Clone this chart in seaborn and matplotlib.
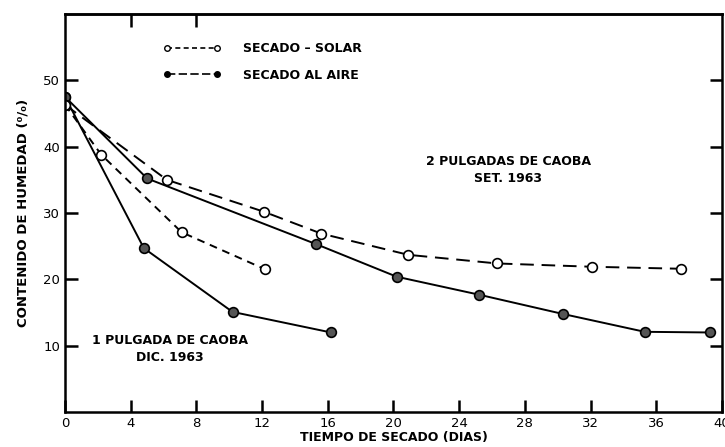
import matplotlib
matplotlib.use("Agg")
import matplotlib.pyplot as plt
import seaborn as sns
from matplotlib.lines import Line2D

# curvas de secado
dias_1p_aire = [0, 4.8, 10.2, 16.2]
hum_1p_aire = [47.5, 24.7, 15.1, 12.0]
dias_1p_solar = [0, 2.2, 7.1, 12.2]
hum_1p_solar = [46.3, 38.8, 27.1, 21.5]
dias_2p_aire = [0, 5.0, 15.3, 20.2, 25.2, 30.3, 35.3, 39.3]
hum_2p_aire = [47.5, 35.2, 25.3, 20.4, 17.7, 14.8, 12.1, 12.0]
dias_2p_solar = [0, 6.2, 12.1, 15.6, 20.9, 26.3, 32.1, 37.5]
hum_2p_solar = [46.3, 35.0, 30.2, 26.9, 23.7, 22.4, 21.9, 21.6]

x_ticks = [0, 4, 8, 12, 16, 20, 24, 28, 32, 36, 40]
y_ticks = [10, 20, 30, 40, 50]

sns.set_style("ticks", {'text.color': 'black', 'axes.labelcolor': 'black',
                        'xtick.color': 'black', 'ytick.color': 'black',
                        'axes.edgecolor': 'black'})
plt.rcParams['font.family'] = ['Liberation Sans Narrow', 'DejaVu Sans']

fig = plt.figure(figsize=(7.25, 4.47), dpi=100)
ax = fig.add_axes([0.0897, 0.078, 0.906, 0.891])

abierto = dict(marker='o', markersize=7, markerfacecolor='white',
               markeredgecolor='black', markeredgewidth=1.2)
lleno = dict(marker='o', markersize=7, markerfacecolor='#555555',
             markeredgecolor='black', markeredgewidth=1.2)

sns.lineplot(x=dias_1p_aire, y=hum_1p_aire, ax=ax, color='black', lw=1.4, **lleno)
sns.lineplot(x=dias_2p_aire, y=hum_2p_aire, ax=ax, color='black', lw=1.4, **lleno)
sns.lineplot(x=dias_1p_solar, y=hum_1p_solar, ax=ax, color='black', lw=1.4,
             dashes=(4, 3), **abierto)
sns.lineplot(x=dias_2p_solar, y=hum_2p_solar, ax=ax, color='black', lw=1.4,
             dashes=(7, 4), **abierto)

ax.set_xlim(0, 40)
ax.set_ylim(0, 60)
ax.set_xticks(x_ticks)
ax.set_yticks(y_ticks)
ax.tick_params(direction='in', length=9, width=1.8, labelsize=9.5, right=True)
ax.tick_params(axis='y', labelright=False)
for s in ax.spines.values():
    s.set_linewidth(1.8)

top = ax.secondary_xaxis('top')
top.set_xticks([4, 8])
top.tick_params(direction='in', length=9, width=1.8, labeltop=False)
top.spines['top'].set_linewidth(1.8)

ax.set_xlabel("TIEMPO DE SECADO (DIAS)", fontsize=9, fontweight='bold', labelpad=1)
ax.set_ylabel("CONTENIDO DE HUMEDAD (⁰/₀)", fontsize=9.5, fontweight='bold',
              labelpad=10)

ax.text(27, 36.5, "2 PULGADAS DE CAOBA\nSET. 1963", ha='center', va='center',
        fontsize=9, fontweight='bold', linespacing=1.4)
ax.text(6.4, 9.5, "1 PULGADA DE CAOBA\nDIC. 1963", ha='center', va='center',
        fontsize=9, fontweight='bold', linespacing=1.4)

h_solar = Line2D([], [], color='black', lw=1.2, dashes=(3, 2), marker='o',
                 markersize=4, markerfacecolor='white', markeredgecolor='black')
h_aire = Line2D([], [], color='black', lw=1.2, dashes=(5, 2), marker='o',
                markersize=4, markerfacecolor='black', markeredgecolor='black')
ax.legend([h_solar, h_aire], ["SECADO – SOLAR", "SECADO AL AIRE"],
          loc='upper left', bbox_to_anchor=(0.14, 0.945), frameon=False,
          numpoints=2, handlelength=4.6, handletextpad=1.8,
          prop={'size': 9, 'weight': 'bold'},
          borderpad=0, labelspacing=1.1)

fig.savefig("out.png", dpi=100)
